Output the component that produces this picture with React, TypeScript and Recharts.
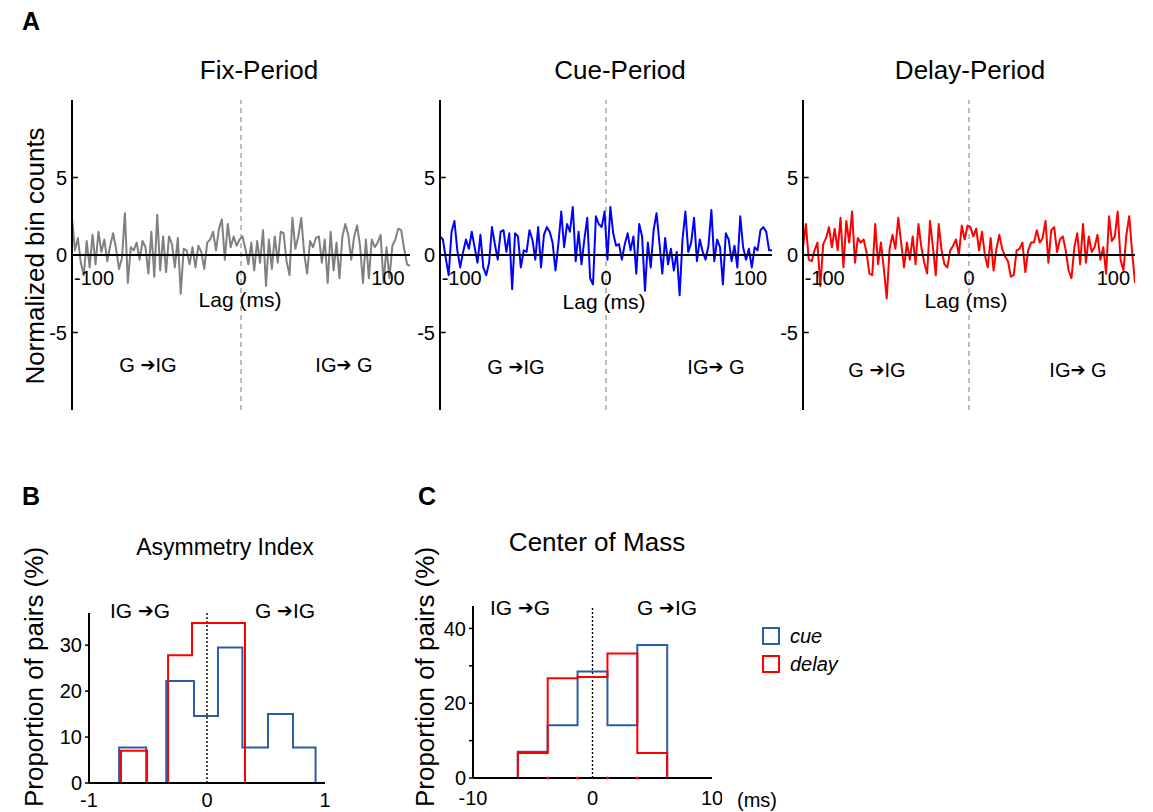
import React from 'react';
import { LineChart, Line, XAxis, YAxis, ReferenceLine, ReferenceDot } from 'recharts';

const FONT = '"Liberation Sans", Arial, Helvetica, sans-serif';

// ---------- Panel A: cross-correlograms ----------
const LAG_MIN = -115;
const LAG_MAX = 115;
const LAG_TICKS = [-100, 0, 100];
const COUNT_TICKS = [-5, 0, 5];

const FIX_VALUES = [
  2.4, 0.3, 1.1, -0.5, -1.3, 0.9, -0.8, 1.3, -0.6, 1.5, 0.2, 1.0, -0.4, 0.6, 1.4, 0.4, -0.9, -0.2, 2.7, -1.8,
  0.5, 0.3, 0.8, -0.3, 0.9, 0.5, -1.2, 1.5, -1.4, 2.6, -1.0, 1.2, -1.1, 1.2, 0.7, -0.8, 1.1, -2.5, 0.4, 0.3,
  -0.6, 0.5, -0.8, 0.6, 0.2, -0.9, 0.8, 1.0, 1.5, 0.3, 1.7, 2.3, -0.3, 2.0, 0.5, 1.2, 0.6, 1.0,
  1.2, 0.4, -0.6, 0.8, -1.0, 0.9, -0.5, 1.6, -2.0, 1.0, -0.9, 1.2, -0.5, 1.5, 1.4, -0.4, -1.3, 2.4, 0.4, 1.2,
  2.4, 0.1, -1.2, 0.9, 0.5, 1.1, 1.2, -0.5, 1.0, -1.8, 1.5, -1.0, 0.8, -1.5, 1.2, 2.0, 1.3, -0.3, 1.2, 1.9,
  0.6, -1.8, 1.0, -1.5, 1.0, 0.5, 0.8, 1.3, -1.8, 0.5, -1.5, 0.6, 1.0, 1.7, 1.6, 0.4, -0.6, -0.7,
];

const CUE_VALUES = [
  1.2, 1.0, -0.2, -1.3, 1.5, 2.2, 0.3, -0.8, 0.2, 1.0, 0.4, 1.5, 0.5, -0.5, 1.3, -0.8, -1.3, -0.5, 1.8, 0.7,
  -0.3, 1.5, 1.6, 0.2, 1.4, -2.2, 1.4, 1.2, -0.8, 0.3, 0.2, 1.6, 1.0, -0.3, 1.8, -0.8, 1.3, 1.8, 1.5, 0.8,
  -1.0, 0.7, 2.8, 0.5, 2.0, 1.5, 3.1, -0.4, 1.5, -0.6, 1.0, 2.4, -1.5, -1.9, 2.5, 2.0, 1.8, 2.8,
  -0.3, 3.1, 1.4, 0.6, 0.7, -0.3, 0.7, 1.4, 0.3, 1.2, -1.2, 2.0, 1.2, -2.3, 0.8, -0.8, 1.6, 2.7, 0.8, -1.2,
  1.1, -0.6, 0.4, -1.0, 0.2, -2.6, 1.0, 2.8, 0.2, 0.8, 2.4, -0.4, 1.0, 0.2, -0.3, 0.6, 2.9, -0.4, 1.0, 0.5,
  -1.9, 1.4, 1.0, -0.4, 0.6, -0.8, 2.5, 0.5, -0.3, 0.4, -0.8, 0.5, 0.3, 1.6, 1.8, 1.5, 0.3, 0.3,
];

const DELAY_VALUES = [
  0.5, 2.0, -0.3, -0.4, 0.3, 0.8, -2.0, 0.7, 1.1, 1.8, 0.5, 1.7, 0.3, 2.4, -0.8, 2.2, 0.8, 2.8, -0.5, 1.1,
  0.8, 1.0, 0.2, -1.2, -1.3, 2.0, -0.6, 0.8, -0.9, -2.8, 0.4, 1.3, 0.4, 2.4, 0.8, -0.8, 0.8, -0.3, 1.2, -0.6,
  2.0, 0.5, -0.5, -1.2, 2.2, 0.5, -1.3, 2.0, 0.3, -0.6, -0.8, 0.3, 0.6, 1.0, 0.0, 1.9, 1.0, 1.9,
  1.8, 1.2, 1.7, 0.3, 1.5, 0.0, -0.8, 1.1, -1.0, 0.4, 1.3, 0.4, -0.1, -0.4, -1.4, -1.3, 0.3, 0.4, 0.8, -1.1,
  0.3, 0.8, 0.8, 1.6, 0.8, 1.1, 2.2, -0.5, 1.6, 1.8, 0.2, 1.0, 1.2, 0.3, -1.0, -1.5, 0.5, 1.4, -0.6, 2.0,
  -0.5, 1.2, 0.2, 0.5, 1.3, -0.3, 0.5, -1.2, 2.5, 0.9, 1.2, 2.8, -0.3, -1.0, 1.3, 2.5, 0.2, -1.8,
];

// ---------- Panel B: asymmetry index histograms ----------
const ASYM_CUE_EDGES = [-0.745, -0.515, -0.345, -0.11, 0.093, 0.3, 0.517, 0.729, 0.92];
const ASYM_CUE_PCT = [7.7, 0, 22.2, 14.6, 29.5, 7.7, 15.0, 7.7];
const ASYM_DELAY_EDGES = [-0.729, -0.508, -0.33, -0.127, 0.098, 0.322];
const ASYM_DELAY_PCT = [7.0, 0, 27.8, 34.8, 34.8];
const ASYM_X_TICKS = [-1, 0, 1];
const ASYM_Y_TICKS = [0, 10, 20, 30];

// ---------- Panel C: center of mass histograms ----------
const COM_EDGES = [-6.25, -3.75, -1.25, 1.25, 3.75, 6.25];
const COM_CUE_PCT = [7.0, 14.1, 28.5, 14.1, 35.6];
const COM_DELAY_PCT = [6.7, 26.7, 27.0, 33.3, 6.7];
const COM_X_TICKS = [-10, 0, 10];
const COM_Y_TICKS = [0, 10, 20, 30, 40];
const COM_RED_MARKS = [-3.75, -1.25, 1.25, 3.75];

const toSeries = (vals: number[]) =>
  vals.map((v, i) => ({ lag: LAG_MIN + ((LAG_MAX - LAG_MIN) * i) / (vals.length - 1), v }));

const stepPoints = (edges: number[], vals: number[]) => [
  { x: edges[0], y: 0 },
  ...vals.map((v, i) => ({ x: edges[i], y: v })),
  { x: edges[edges.length - 1], y: 0 },
];

const BLUE = '#2c5ca8';
const RED = '#ff0000';

type TProps = {
  x: number;
  y: number;
  size?: number;
  bold?: boolean;
  italic?: boolean;
  rotate?: boolean;
  anchor?: 'middle' | 'start';
  children: React.ReactNode;
};

const T = ({ x, y, size = 20, bold, italic, rotate, anchor = 'middle', children }: TProps) => (
  <div
    style={{
      position: 'absolute',
      left: x,
      top: y,
      transform: `translate(${anchor === 'middle' ? '-50%' : '0'}, -50%)${rotate ? ' rotate(-90deg)' : ''}`,
      fontSize: size,
      fontWeight: bold ? 'bold' : 'normal',
      fontStyle: italic ? 'italic' : 'normal',
      fontFamily: FONT,
      lineHeight: 1,
      whiteSpace: 'nowrap',
      color: '#000',
    }}
  >
    {children}
  </div>
);

const Arrow = () => (
  <span style={{ fontFamily: '"DejaVu Sans", sans-serif', fontSize: '0.9em', verticalAlign: '0.05em' }}>{'\u2794'}</span>
);

const tickStyle = { fontSize: 20, fill: '#000', fontFamily: FONT };

function CCGPanel({ left, width, values, color }: { left: number; width: number; values: number[]; color: string }) {
  const data = toSeries(values);
  return (
    <div style={{ position: 'absolute', left, top: 100 }}>
      <LineChart width={width} height={310} data={data} margin={{ top: 0, right: 0, bottom: 0, left: 0 }}>
        <XAxis dataKey="lag" type="number" domain={[LAG_MIN, LAG_MAX]} hide />
        <YAxis
          type="number"
          domain={[-10, 10]}
          ticks={COUNT_TICKS}
          interval={0}
          width={40}
          axisLine={{ stroke: '#000', strokeWidth: 2 }}
          tickLine={false}
          tickSize={2}
          tickMargin={3}
          tick={tickStyle}
        />
        <ReferenceLine x={0} stroke="#9a9a9a" strokeDasharray="5 4" strokeWidth={1.3} />
        <ReferenceLine segment={[{ x: LAG_MIN, y: 5 }, { x: LAG_MIN + 4, y: 5 }]} stroke="#000" strokeWidth={1.5} />
        <ReferenceLine segment={[{ x: LAG_MIN, y: -5 }, { x: LAG_MIN + 4, y: -5 }]} stroke="#000" strokeWidth={1.5} />
        <Line
          dataKey="v"
          type="linear"
          stroke={color}
          strokeWidth={2}
          dot={false}
          isAnimationActive={false}
          strokeLinejoin="round"
        />
        <ReferenceLine y={0} stroke="#000" strokeWidth={2} />
        {LAG_TICKS.map((t) => (
          <ReferenceDot
            key={t}
            x={t}
            y={0}
            r={1}
            fill="none"
            stroke="none"
            label={{ value: String(t), position: 'bottom', offset: 15, fontSize: 20, fill: '#000', fontFamily: FONT }}
          />
        ))}
      </LineChart>
    </div>
  );
}

export default function App() {
  return (
    <div style={{ position: 'absolute', left: 0, top: 0, width: 1153, height: 812, background: '#fff', fontFamily: FONT }}>
      {/* Panel letters */}
      <T x={31} y={21} size={25} bold>A</T>
      <T x={31} y={496} size={25} bold>B</T>
      <T x={427} y={496} size={25} bold>C</T>

      {/* Panel A titles */}
      <T x={259} y={70} size={26}>Fix-Period</T>
      <T x={620} y={70} size={26}>Cue-Period</T>
      <T x={970} y={70} size={26}>Delay-Period</T>
      <T x={35} y={256} size={26} rotate>Normalized bin counts</T>

      <CCGPanel left={32} width={378} values={FIX_VALUES} color="#808080" />
      <CCGPanel left={400} width={372} values={CUE_VALUES} color="#0000ff" />
      <CCGPanel left={763} width={372} values={DELAY_VALUES} color="#ff0000" />

      <T x={240} y={299} size={21}>Lag (ms)</T>
      <T x={604} y={301} size={21}>Lag (ms)</T>
      <T x={966} y={300} size={21}>Lag (ms)</T>

      <T x={148} y={365} size={20}>G <Arrow />IG</T>
      <T x={344} y={365} size={20}>IG<Arrow /> G</T>
      <T x={516} y={367} size={20}>G <Arrow />IG</T>
      <T x={716} y={367} size={20}>IG<Arrow /> G</T>
      <T x={877} y={370} size={20}>G <Arrow />IG</T>
      <T x={1078} y={370} size={20}>IG<Arrow /> G</T>

      {/* Panel B */}
      <T x={225} y={547} size={23}>Asymmetry Index</T>
      <T x={34} y={677} size={26} rotate>Proportion of pairs (%)</T>
      <T x={140} y={610} size={21}>IG <Arrow />G</T>
      <T x={285} y={610} size={21}>G <Arrow />IG</T>
      <div style={{ position: 'absolute', left: 44, top: 613 }}>
        <LineChart width={291} height={200} margin={{ top: 0, right: 10, bottom: 0, left: 0 }}>
          <XAxis
            dataKey="x"
            type="number"
            domain={[-1, 1]}
            ticks={ASYM_X_TICKS}
            interval={0}
            height={30}
            axisLine={{ stroke: '#000', strokeWidth: 2 }}
            tickLine={false}
            tickMargin={4}
            tick={tickStyle}
          />
          <YAxis
            type="number"
            domain={[0, 37]}
            ticks={ASYM_Y_TICKS}
            interval={0}
            width={45}
            axisLine={{ stroke: '#000', strokeWidth: 2 }}
            tickLine={{ stroke: '#000', strokeWidth: 1.5 }}
            tickSize={4}
            tickMargin={3}
            tick={tickStyle}
          />
          <ReferenceLine x={0} stroke="#000" strokeDasharray="2 2" strokeWidth={1.4} />
          <Line
            data={stepPoints(ASYM_CUE_EDGES, ASYM_CUE_PCT)}
            dataKey="y"
            type="stepAfter"
            stroke={BLUE}
            strokeWidth={2}
            dot={false}
            isAnimationActive={false}
          />
          <Line
            data={stepPoints(ASYM_DELAY_EDGES, ASYM_DELAY_PCT)}
            dataKey="y"
            type="stepAfter"
            stroke={RED}
            strokeWidth={2}
            dot={false}
            isAnimationActive={false}
          />
        </LineChart>
      </div>

      {/* Panel C */}
      <T x={597} y={542} size={26}>Center of Mass</T>
      <T x={425} y={677} size={26} rotate>Proportion of pairs (%)</T>
      <T x={520} y={607} size={21}>IG <Arrow />G</T>
      <T x={667} y={607} size={21}>G <Arrow />IG</T>
      <T x={737} y={800} size={20} anchor="start">(ms)</T>
      <div style={{ position: 'absolute', left: 428, top: 606 }}>
        <LineChart width={294} height={204} margin={{ top: 0, right: 10, bottom: 0, left: 0 }}>
          <XAxis
            dataKey="x"
            type="number"
            domain={[-10, 10]}
            ticks={COM_X_TICKS}
            interval={0}
            height={32}
            axisLine={{ stroke: '#000', strokeWidth: 2 }}
            tickLine={false}
            tickMargin={7}
            tick={tickStyle}
          />
          <YAxis
            type="number"
            domain={[0, 46]}
            ticks={COM_Y_TICKS}
            interval={0}
            width={45}
            axisLine={{ stroke: '#000', strokeWidth: 2 }}
            tickLine={{ stroke: '#000', strokeWidth: 1.5 }}
            tickSize={4}
            tickMargin={3}
            tick={tickStyle}
            tickFormatter={(v: number) => (v % 20 === 0 ? String(v) : '')}
          />
          <ReferenceLine x={0} stroke="#000" strokeDasharray="2 2" strokeWidth={1.4} />
          <Line
            data={stepPoints(COM_EDGES, COM_CUE_PCT)}
            dataKey="y"
            type="stepAfter"
            stroke={BLUE}
            strokeWidth={2}
            dot={false}
            isAnimationActive={false}
          />
          <Line
            data={stepPoints(COM_EDGES, COM_DELAY_PCT)}
            dataKey="y"
            type="stepAfter"
            stroke={RED}
            strokeWidth={2}
            dot={false}
            isAnimationActive={false}
          />
          {COM_RED_MARKS.map((m) => (
            <ReferenceDot key={m} x={m} y={0} r={1.5} fill={RED} stroke="none" />
          ))}
        </LineChart>
      </div>

      {/* Legend */}
      <div style={{ position: 'absolute', left: 762, top: 627, width: 14, height: 14, border: `2px solid ${BLUE}` }} />
      <T x={790} y={636} size={20} italic anchor="start">cue</T>
      <div style={{ position: 'absolute', left: 762, top: 655, width: 14, height: 14, border: `2px solid ${RED}` }} />
      <T x={790} y={664} size={20} italic anchor="start">delay</T>
    </div>
  );
}
